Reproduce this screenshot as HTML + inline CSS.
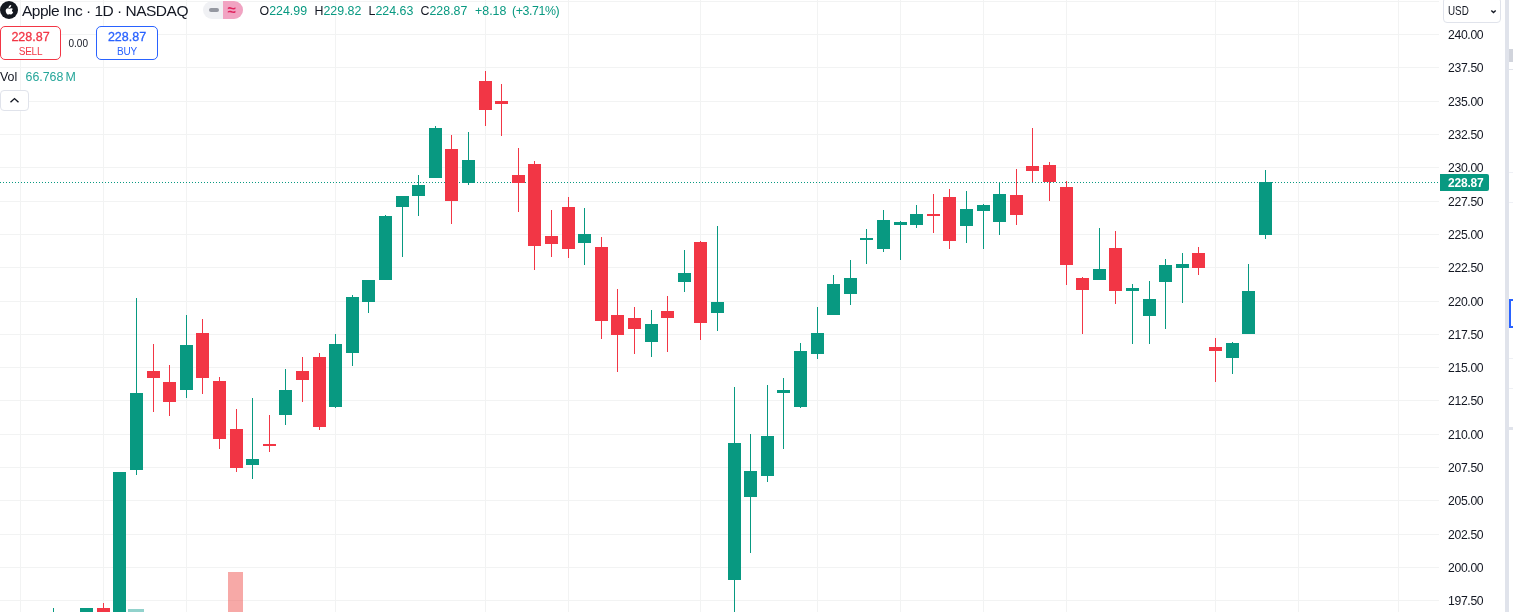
<!DOCTYPE html>
<html><head><meta charset="utf-8"><title>Apple Inc chart</title>
<style>
html,body{margin:0;padding:0;background:#fff;}
body{width:1513px;height:612px;overflow:hidden;position:relative;font-family:"Liberation Sans","DejaVu Sans",sans-serif;color:#131722;}
.chart{position:absolute;left:0;top:0;}
.abs{position:absolute;white-space:nowrap;}
.pl{position:absolute;left:1448px;width:40px;font-size:12.2px;letter-spacing:-0.33px;line-height:15px;height:15px;color:#131722;white-space:nowrap;}
.title{left:22px;top:2px;font-size:15.5px;line-height:18px;letter-spacing:-0.5px;color:#131722;}
.ohlc{top:4px;font-size:12.4px;line-height:15px;color:#089981;}
.ohlc b{font-weight:normal;color:#131722;}
.btn{position:absolute;top:26px;height:32px;border:1px solid;border-radius:5px;box-sizing:content-box;text-align:center;background:#fff;}
.btn .p{font-size:12.5px;line-height:14px;margin-top:3px;font-weight:normal;-webkit-text-stroke:0.3px currentColor;}
.btn .t{font-size:10px;line-height:12px;margin-top:2px;letter-spacing:-0.2px;}
</style></head><body>
<svg class="chart" width="1513" height="612" viewBox="0 0 1513 612" shape-rendering="crispEdges">
<rect x="20" y="0" width="1" height="612" fill="#f2f3f3"/>
<rect x="103" y="0" width="1" height="612" fill="#f2f3f3"/>
<rect x="186" y="0" width="1" height="612" fill="#f2f3f3"/>
<rect x="335" y="0" width="1" height="612" fill="#f2f3f3"/>
<rect x="485" y="0" width="1" height="612" fill="#f2f3f3"/>
<rect x="568" y="0" width="1" height="612" fill="#f2f3f3"/>
<rect x="700" y="0" width="1" height="612" fill="#f2f3f3"/>
<rect x="817" y="0" width="1" height="612" fill="#f2f3f3"/>
<rect x="900" y="0" width="1" height="612" fill="#f2f3f3"/>
<rect x="983" y="0" width="1" height="612" fill="#f2f3f3"/>
<rect x="1066" y="0" width="1" height="612" fill="#f2f3f3"/>
<rect x="1215" y="0" width="1" height="612" fill="#f2f3f3"/>
<rect x="1298" y="0" width="1" height="612" fill="#f2f3f3"/>
<rect x="1398" y="0" width="1" height="612" fill="#f2f3f3"/>
<rect x="0" y="1" width="1439" height="1" fill="#f2f3f3"/>
<rect x="0" y="34" width="1439" height="1" fill="#f2f3f3"/>
<rect x="0" y="67" width="1439" height="1" fill="#f2f3f3"/>
<rect x="0" y="101" width="1439" height="1" fill="#f2f3f3"/>
<rect x="0" y="134" width="1439" height="1" fill="#f2f3f3"/>
<rect x="0" y="167" width="1439" height="1" fill="#f2f3f3"/>
<rect x="0" y="201" width="1439" height="1" fill="#f2f3f3"/>
<rect x="0" y="234" width="1439" height="1" fill="#f2f3f3"/>
<rect x="0" y="267" width="1439" height="1" fill="#f2f3f3"/>
<rect x="0" y="301" width="1439" height="1" fill="#f2f3f3"/>
<rect x="0" y="334" width="1439" height="1" fill="#f2f3f3"/>
<rect x="0" y="367" width="1439" height="1" fill="#f2f3f3"/>
<rect x="0" y="400" width="1439" height="1" fill="#f2f3f3"/>
<rect x="0" y="434" width="1439" height="1" fill="#f2f3f3"/>
<rect x="0" y="467" width="1439" height="1" fill="#f2f3f3"/>
<rect x="0" y="500" width="1439" height="1" fill="#f2f3f3"/>
<rect x="0" y="534" width="1439" height="1" fill="#f2f3f3"/>
<rect x="0" y="567" width="1439" height="1" fill="#f2f3f3"/>
<rect x="0" y="600" width="1439" height="1" fill="#f2f3f3"/>
<rect x="128" y="609" width="16" height="3" fill="#26a69a" fill-opacity="0.5"/>
<rect x="228" y="572" width="15" height="40" fill="#ef5350" fill-opacity="0.5"/>
<line x1="0" y1="182.5" x2="1440" y2="182.5" stroke="#089981" stroke-width="1" stroke-dasharray="1 2"/>
<rect x="53" y="608" width="1" height="4" fill="#089981"/>
<rect x="86" y="608" width="1" height="5" fill="#089981"/>
<rect x="80" y="608" width="13" height="5" fill="#089981"/>
<rect x="103" y="603" width="1" height="10" fill="#f23645"/>
<rect x="97" y="608" width="13" height="5" fill="#f23645"/>
<rect x="119" y="472" width="1" height="141" fill="#089981"/>
<rect x="113" y="472" width="13" height="141" fill="#089981"/>
<rect x="136" y="298" width="1" height="177" fill="#089981"/>
<rect x="130" y="393" width="13" height="77" fill="#089981"/>
<rect x="153" y="344" width="1" height="68" fill="#f23645"/>
<rect x="147" y="371" width="13" height="7" fill="#f23645"/>
<rect x="169" y="365" width="1" height="51" fill="#f23645"/>
<rect x="163" y="382" width="13" height="20" fill="#f23645"/>
<rect x="186" y="315" width="1" height="83" fill="#089981"/>
<rect x="180" y="345" width="13" height="45" fill="#089981"/>
<rect x="202" y="319" width="1" height="75" fill="#f23645"/>
<rect x="196" y="333" width="13" height="45" fill="#f23645"/>
<rect x="219" y="377" width="1" height="72" fill="#f23645"/>
<rect x="213" y="381" width="13" height="58" fill="#f23645"/>
<rect x="236" y="409" width="1" height="63" fill="#f23645"/>
<rect x="230" y="429" width="13" height="39" fill="#f23645"/>
<rect x="252" y="398" width="1" height="81" fill="#089981"/>
<rect x="246" y="459" width="13" height="6" fill="#089981"/>
<rect x="269" y="415" width="1" height="37" fill="#f23645"/>
<rect x="263" y="444" width="13" height="2" fill="#f23645"/>
<rect x="285" y="369" width="1" height="56" fill="#089981"/>
<rect x="279" y="390" width="13" height="25" fill="#089981"/>
<rect x="302" y="357" width="1" height="45" fill="#f23645"/>
<rect x="296" y="371" width="13" height="9" fill="#f23645"/>
<rect x="319" y="353" width="1" height="77" fill="#f23645"/>
<rect x="313" y="357" width="13" height="70" fill="#f23645"/>
<rect x="335" y="334" width="1" height="74" fill="#089981"/>
<rect x="329" y="344" width="13" height="63" fill="#089981"/>
<rect x="352" y="295" width="1" height="71" fill="#089981"/>
<rect x="346" y="297" width="13" height="56" fill="#089981"/>
<rect x="368" y="280" width="1" height="33" fill="#089981"/>
<rect x="362" y="280" width="13" height="22" fill="#089981"/>
<rect x="385" y="215" width="1" height="65" fill="#089981"/>
<rect x="379" y="216" width="13" height="64" fill="#089981"/>
<rect x="402" y="196" width="1" height="61" fill="#089981"/>
<rect x="396" y="196" width="13" height="11" fill="#089981"/>
<rect x="418" y="175" width="1" height="41" fill="#089981"/>
<rect x="412" y="185" width="13" height="11" fill="#089981"/>
<rect x="435" y="126" width="1" height="52" fill="#089981"/>
<rect x="429" y="128" width="13" height="50" fill="#089981"/>
<rect x="451" y="135" width="1" height="89" fill="#f23645"/>
<rect x="445" y="149" width="13" height="52" fill="#f23645"/>
<rect x="468" y="132" width="1" height="53" fill="#089981"/>
<rect x="462" y="160" width="13" height="23" fill="#089981"/>
<rect x="485" y="71" width="1" height="55" fill="#f23645"/>
<rect x="479" y="81" width="13" height="29" fill="#f23645"/>
<rect x="501" y="84" width="1" height="52" fill="#f23645"/>
<rect x="495" y="101" width="13" height="3" fill="#f23645"/>
<rect x="518" y="148" width="1" height="64" fill="#f23645"/>
<rect x="512" y="175" width="13" height="8" fill="#f23645"/>
<rect x="534" y="161" width="1" height="109" fill="#f23645"/>
<rect x="528" y="164" width="13" height="82" fill="#f23645"/>
<rect x="551" y="210" width="1" height="47" fill="#f23645"/>
<rect x="545" y="236" width="13" height="8" fill="#f23645"/>
<rect x="568" y="197" width="1" height="61" fill="#f23645"/>
<rect x="562" y="207" width="13" height="42" fill="#f23645"/>
<rect x="584" y="208" width="1" height="57" fill="#089981"/>
<rect x="578" y="234" width="13" height="9" fill="#089981"/>
<rect x="601" y="237" width="1" height="102" fill="#f23645"/>
<rect x="595" y="247" width="13" height="74" fill="#f23645"/>
<rect x="617" y="289" width="1" height="83" fill="#f23645"/>
<rect x="611" y="315" width="13" height="20" fill="#f23645"/>
<rect x="634" y="307" width="1" height="47" fill="#f23645"/>
<rect x="628" y="318" width="13" height="11" fill="#f23645"/>
<rect x="651" y="310" width="1" height="47" fill="#089981"/>
<rect x="645" y="324" width="13" height="18" fill="#089981"/>
<rect x="667" y="296" width="1" height="56" fill="#f23645"/>
<rect x="661" y="311" width="13" height="7" fill="#f23645"/>
<rect x="684" y="250" width="1" height="42" fill="#089981"/>
<rect x="678" y="273" width="13" height="9" fill="#089981"/>
<rect x="700" y="241" width="1" height="99" fill="#f23645"/>
<rect x="694" y="242" width="13" height="81" fill="#f23645"/>
<rect x="717" y="226" width="1" height="105" fill="#089981"/>
<rect x="711" y="302" width="13" height="11" fill="#089981"/>
<rect x="734" y="387" width="1" height="226" fill="#089981"/>
<rect x="728" y="443" width="13" height="137" fill="#089981"/>
<rect x="750" y="434" width="1" height="119" fill="#089981"/>
<rect x="744" y="471" width="13" height="26" fill="#089981"/>
<rect x="767" y="385" width="1" height="97" fill="#089981"/>
<rect x="761" y="436" width="13" height="40" fill="#089981"/>
<rect x="783" y="378" width="1" height="71" fill="#089981"/>
<rect x="777" y="390" width="13" height="3" fill="#089981"/>
<rect x="800" y="343" width="1" height="65" fill="#089981"/>
<rect x="794" y="351" width="13" height="56" fill="#089981"/>
<rect x="817" y="307" width="1" height="52" fill="#089981"/>
<rect x="811" y="333" width="13" height="21" fill="#089981"/>
<rect x="833" y="275" width="1" height="40" fill="#089981"/>
<rect x="827" y="284" width="13" height="31" fill="#089981"/>
<rect x="850" y="260" width="1" height="45" fill="#089981"/>
<rect x="844" y="278" width="13" height="16" fill="#089981"/>
<rect x="866" y="229" width="1" height="35" fill="#089981"/>
<rect x="860" y="238" width="13" height="2" fill="#089981"/>
<rect x="883" y="210" width="1" height="42" fill="#089981"/>
<rect x="877" y="220" width="13" height="29" fill="#089981"/>
<rect x="900" y="221" width="1" height="39" fill="#089981"/>
<rect x="894" y="222" width="13" height="3" fill="#089981"/>
<rect x="916" y="205" width="1" height="23" fill="#089981"/>
<rect x="910" y="214" width="13" height="11" fill="#089981"/>
<rect x="933" y="194" width="1" height="39" fill="#f23645"/>
<rect x="927" y="214" width="13" height="2" fill="#f23645"/>
<rect x="949" y="189" width="1" height="60" fill="#f23645"/>
<rect x="943" y="197" width="13" height="44" fill="#f23645"/>
<rect x="966" y="191" width="1" height="52" fill="#089981"/>
<rect x="960" y="209" width="13" height="17" fill="#089981"/>
<rect x="983" y="204" width="1" height="45" fill="#089981"/>
<rect x="977" y="205" width="13" height="6" fill="#089981"/>
<rect x="999" y="182" width="1" height="53" fill="#089981"/>
<rect x="993" y="194" width="13" height="28" fill="#089981"/>
<rect x="1016" y="169" width="1" height="56" fill="#f23645"/>
<rect x="1010" y="195" width="13" height="20" fill="#f23645"/>
<rect x="1032" y="128" width="1" height="54" fill="#f23645"/>
<rect x="1026" y="166" width="13" height="5" fill="#f23645"/>
<rect x="1049" y="162" width="1" height="39" fill="#f23645"/>
<rect x="1043" y="165" width="13" height="17" fill="#f23645"/>
<rect x="1066" y="181" width="1" height="104" fill="#f23645"/>
<rect x="1060" y="187" width="13" height="78" fill="#f23645"/>
<rect x="1082" y="277" width="1" height="57" fill="#f23645"/>
<rect x="1076" y="278" width="13" height="12" fill="#f23645"/>
<rect x="1099" y="228" width="1" height="52" fill="#089981"/>
<rect x="1093" y="269" width="13" height="11" fill="#089981"/>
<rect x="1115" y="231" width="1" height="73" fill="#f23645"/>
<rect x="1109" y="248" width="13" height="43" fill="#f23645"/>
<rect x="1132" y="284" width="1" height="60" fill="#089981"/>
<rect x="1126" y="288" width="13" height="3" fill="#089981"/>
<rect x="1149" y="281" width="1" height="63" fill="#089981"/>
<rect x="1143" y="299" width="13" height="17" fill="#089981"/>
<rect x="1165" y="259" width="1" height="70" fill="#089981"/>
<rect x="1159" y="265" width="13" height="17" fill="#089981"/>
<rect x="1182" y="253" width="1" height="50" fill="#089981"/>
<rect x="1176" y="264" width="13" height="4" fill="#089981"/>
<rect x="1198" y="247" width="1" height="28" fill="#f23645"/>
<rect x="1192" y="253" width="13" height="15" fill="#f23645"/>
<rect x="1215" y="338" width="1" height="44" fill="#f23645"/>
<rect x="1209" y="347" width="13" height="4" fill="#f23645"/>
<rect x="1232" y="342" width="1" height="32" fill="#089981"/>
<rect x="1226" y="343" width="13" height="15" fill="#089981"/>
<rect x="1248" y="264" width="1" height="70" fill="#089981"/>
<rect x="1242" y="291" width="13" height="43" fill="#089981"/>
<rect x="1265" y="170" width="1" height="69" fill="#089981"/>
<rect x="1259" y="182" width="13" height="53" fill="#089981"/>
</svg>
<!-- right strip -->
<div class="abs" style="left:1505px;top:0;width:4px;height:612px;background:#e0e3eb"></div>
<div class="abs" style="left:1509px;top:0;width:4px;height:612px;background:#fff"></div>
<div class="abs" style="left:1509px;top:49px;width:4px;height:13px;background:#d1d4dc"></div>
<div class="abs" style="left:1509px;top:69px;width:4px;height:1px;background:#e0e3eb"></div>
<div class="abs" style="left:1509px;top:172px;width:4px;height:1px;background:#eef0f5"></div>
<div class="abs" style="left:1509px;top:202px;width:4px;height:1px;background:#eef0f5"></div>
<div class="abs" style="left:1509px;top:299px;width:6px;height:25px;border:2px solid #2962ff"></div>
<div class="abs" style="left:1509px;top:358px;width:4px;height:1px;background:#eef0f5"></div>
<div class="abs" style="left:1509px;top:388px;width:4px;height:1px;background:#eef0f5"></div>
<div class="abs" style="left:1509px;top:427px;width:4px;height:3px;background:#e0e3eb"></div>
<!-- price axis -->
<div class="pl" style="top:28px">240.00</div><div class="pl" style="top:61px">237.50</div><div class="pl" style="top:95px">235.00</div><div class="pl" style="top:128px">232.50</div><div class="pl" style="top:161px">230.00</div><div class="pl" style="top:195px">227.50</div><div class="pl" style="top:228px">225.00</div><div class="pl" style="top:261px">222.50</div><div class="pl" style="top:295px">220.00</div><div class="pl" style="top:328px">217.50</div><div class="pl" style="top:361px">215.00</div><div class="pl" style="top:394px">212.50</div><div class="pl" style="top:428px">210.00</div><div class="pl" style="top:461px">207.50</div><div class="pl" style="top:494px">205.00</div><div class="pl" style="top:528px">202.50</div><div class="pl" style="top:561px">200.00</div><div class="pl" style="top:594px">197.50</div>
<div class="abs" style="left:1440px;top:174px;width:49px;height:17px;background:#089981;border-radius:0 2px 2px 0;"></div>
<div class="abs" style="left:1448px;top:175px;font-size:12px;line-height:16px;color:#fff;font-weight:bold;letter-spacing:-0.2px">228.87</div>
<div class="abs" style="left:1443px;top:-3px;width:58px;height:26px;border:1px solid #e0e3eb;border-radius:4px;background:#fff;box-sizing:border-box"></div>
<div class="abs" style="left:1447.5px;top:4px;font-size:12px;line-height:15px;color:#131722;transform:scaleX(0.82);transform-origin:0 0">USD</div>
<svg class="abs" style="left:1489px;top:8px" width="9" height="7" viewBox="0 0 9 7"><path d="M2.3 2.5 L4.5 4.6 L6.7 2.5" fill="none" stroke="#131722" stroke-width="1.4"/></svg>
<!-- legend -->
<svg class="abs" style="left:0;top:1px" width="18" height="18" viewBox="0 0 18 18"><circle cx="9" cy="9" r="9" fill="#14181f"/>
<path transform="translate(-1,0) scale(1.08,1)" d="M11.3 4.0c-.7.05-1.45.5-1.9 1.05-.4.5-.73 1.22-.6 1.93.73.02 1.5-.42 1.93-.98.42-.54.72-1.28.57-2zM12.9 8.1c-.4-.5-1-.8-1.55-.8-.72 0-1.03.35-1.53.35-.52 0-.92-.35-1.55-.35-.62 0-1.28.38-1.7 1.02-.58.9-.48 2.62.47 4.07.34.52.8 1.1 1.38 1.1.53.01.68-.33 1.4-.34.7 0 .84.35 1.37.34.6 0 1.07-.65 1.4-1.17.25-.37.34-.56.53-.98-1.4-.53-1.6-2.5-.22-3.24z" fill="#fff"/></svg>
<div class="abs title">Apple Inc · 1D · NASDAQ</div>
<div class="abs" style="left:203px;top:1px;width:40px;height:18px;border-radius:9px;background:#f0f1f4;overflow:hidden"><div style="position:absolute;left:20px;top:0;width:20px;height:18px;background:#f1a3c2"></div><div style="position:absolute;left:6px;top:7px;width:10px;height:4px;border-radius:2px;background:#9598a1"></div></div>
<div class="abs" style="left:227.5px;top:0px;font-size:15px;line-height:19px;color:#e0245e;font-weight:bold;">≈</div>
<div class="abs ohlc" style="left:259.5px"><b>O</b>224.99</div>
<div class="abs ohlc" style="left:314.5px"><b>H</b>229.82</div>
<div class="abs ohlc" style="left:368.5px"><b>L</b>224.63</div>
<div class="abs ohlc" style="left:420.5px"><b>C</b>228.87</div>
<div class="abs ohlc" style="left:475px">+8.18</div>
<div class="abs ohlc" style="left:512px;letter-spacing:-0.42px">(+3.71%)</div>
<div class="btn" style="left:0;width:59px;border-color:#f23645;color:#f23645"><div class="p">228.87</div><div class="t">SELL</div></div>
<div class="btn" style="left:96px;width:60px;border-color:#2962ff;color:#2962ff"><div class="p">228.87</div><div class="t">BUY</div></div>
<div class="abs" style="left:68.5px;top:37px;font-size:10px;line-height:13px;color:#131722">0.00</div>
<div class="abs" style="left:0px;top:70px;font-size:12.4px;line-height:15px;color:#131722">Vol</div>
<div class="abs" style="left:25.5px;top:70px;font-size:12.4px;line-height:15px;color:#26a69a">66.768<span style="margin-left:2px">M</span></div>
<div class="abs" style="left:0px;top:90px;width:29px;height:21px;border:1px solid #e0e3eb;border-radius:4px;background:#fff;box-sizing:border-box"></div>
<svg class="abs" style="left:9px;top:96px" width="11" height="8" viewBox="0 0 11 8"><path d="M1.5 6.3 L5.5 2.6 L9.5 6.3" fill="none" stroke="#131722" stroke-width="1.4"/></svg>
</body></html>
